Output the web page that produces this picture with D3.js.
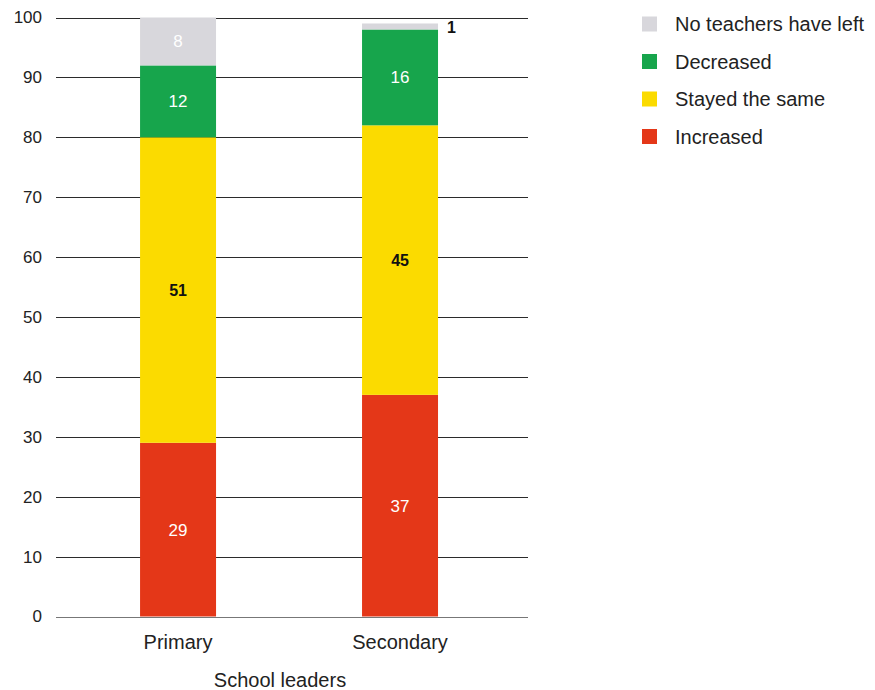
<!DOCTYPE html>
<html>
<head>
<meta charset="utf-8">
<script src="https://cdn.jsdelivr.net/npm/d3@7"></script>
<style>
  html, body { margin: 0; padding: 0; background: #fff; }
  text { font-family: "Liberation Sans", Arial, Helvetica, sans-serif; }
</style>
</head>
<body>
<svg id="chart" width="875" height="690"></svg>
<script>
// Share of school leaders reporting how teacher departures changed
const categories = ["Primary", "Secondary"];
const seriesNames = ["Increased", "Stayed the same", "Decreased", "No teachers have left"];
const increased = [29, 37];
const stayedSame = [51, 45];
const decreased = [12, 16];
const noneLeft = [8, 1];
const yTicks = [0, 10, 20, 30, 40, 50, 60, 70, 80, 90, 100];
const xTitle = "School leaders";

const colors = {
  "Increased": "#e43718",
  "Stayed the same": "#fbdb00",
  "Decreased": "#17a54c",
  "No teachers have left": "#d8d7dc"
};
const labelColors = {
  "Increased": "#ffffff",
  "Stayed the same": "#111111",
  "Decreased": "#ffffff",
  "No teachers have left": "#ffffff"
};

const rows = categories.map((c, i) => ({
  category: c,
  "Increased": increased[i],
  "Stayed the same": stayedSame[i],
  "Decreased": decreased[i],
  "No teachers have left": noneLeft[i]
}));

const svg = d3.select("#chart");
const margin = { left: 56, right: 347, top: 17, bottom: 74 };
const width = 875, height = 690;

const x = d3.scaleBand()
  .domain(categories)
  .range([margin.left, width - margin.right])
  .paddingInner(0.6577)
  .paddingOuter(0.392)
  .align(0.483);

const y = d3.scaleLinear()
  .domain([0, 100])
  .range([height - margin.bottom + 0.5, margin.top + 0.5]);

// Gridlines
const grid = svg.append("g");
grid.selectAll("line")
  .data(yTicks)
  .join("line")
  .attr("x1", margin.left)
  .attr("x2", width - margin.right)
  .attr("y1", d => Math.round(y(d)) + 0.5)
  .attr("y2", d => Math.round(y(d)) + 0.5)
  .attr("stroke", d => d === 0 ? "#777" : "#2b2b2b")
  .attr("stroke-width", 1);

// Y axis labels
const yAxis = d3.axisLeft(y).tickValues(yTicks).tickSize(0).tickPadding(14);
svg.append("g")
  .attr("transform", `translate(${margin.left},0)`)
  .call(yAxis)
  .call(g => g.select(".domain").remove())
  .call(g => g.selectAll("text")
    .attr("font-size", 17)
    .attr("fill", "#222")
    .style("font-family", "'Liberation Sans', Arial, sans-serif"));

// Stacked bars
const stack = d3.stack().keys(seriesNames);
const layers = stack(rows);

const layerG = svg.append("g")
  .selectAll("g")
  .data(layers)
  .join("g")
  .attr("fill", d => colors[d.key]);

layerG.selectAll("rect")
  .data(d => d.map(p => ({ key: d.key, p })))
  .join("rect")
  .attr("x", d => x(d.p.data.category))
  .attr("width", x.bandwidth())
  .attr("y", d => y(d.p[1]))
  .attr("height", d => y(d.p[0]) - y(d.p[1]));

// Value labels
const labels = svg.append("g");
layers.forEach(layer => {
  layer.forEach(p => {
    const v = p[1] - p[0];
    const small = v < 3;
    const bold = small || layer.key === "Stayed the same";
    const cx = small ? x(p.data.category) + x.bandwidth() + 9
                     : x(p.data.category) + x.bandwidth() / 2;
    const cy = small ? y(p[1]) + 4 : (y(p[0]) + y(p[1])) / 2;
    labels.append("text")
      .attr("x", cx)
      .attr("y", cy)
      .attr("dy", "0.35em")
      .attr("text-anchor", small ? "start" : "middle")
      .attr("font-size", bold ? 16 : 17)
      .attr("font-weight", bold ? "bold" : "normal")
      .attr("fill", small ? "#111" : labelColors[layer.key])
      .text(v);
  });
});

// Category labels
svg.append("g")
  .selectAll("text")
  .data(categories)
  .join("text")
  .attr("x", d => x(d) + x.bandwidth() / 2)
  .attr("y", 642)
  .attr("dy", "0.35em")
  .attr("text-anchor", "middle")
  .attr("font-size", 20)
  .attr("fill", "#222")
  .text(d => d);

// Axis title
svg.append("text")
  .attr("x", 280)
  .attr("y", 680)
  .attr("dy", "0.35em")
  .attr("text-anchor", "middle")
  .attr("font-size", 20)
  .attr("fill", "#222")
  .text(xTitle);

// Legend
const legendOrder = ["No teachers have left", "Decreased", "Stayed the same", "Increased"];
const legend = svg.append("g").attr("transform", "translate(642,24)");
const item = legend.selectAll("g")
  .data(legendOrder)
  .join("g")
  .attr("transform", (d, i) => `translate(0,${i * 37.5})`);
item.append("rect")
  .attr("x", 0)
  .attr("y", -7.5)
  .attr("width", 15)
  .attr("height", 15)
  .attr("fill", d => colors[d]);
item.append("text")
  .attr("x", 33)
  .attr("y", 0)
  .attr("dy", "0.35em")
  .attr("font-size", 20)
  .attr("fill", "#222")
  .text(d => d);
</script>
</body>
</html>
